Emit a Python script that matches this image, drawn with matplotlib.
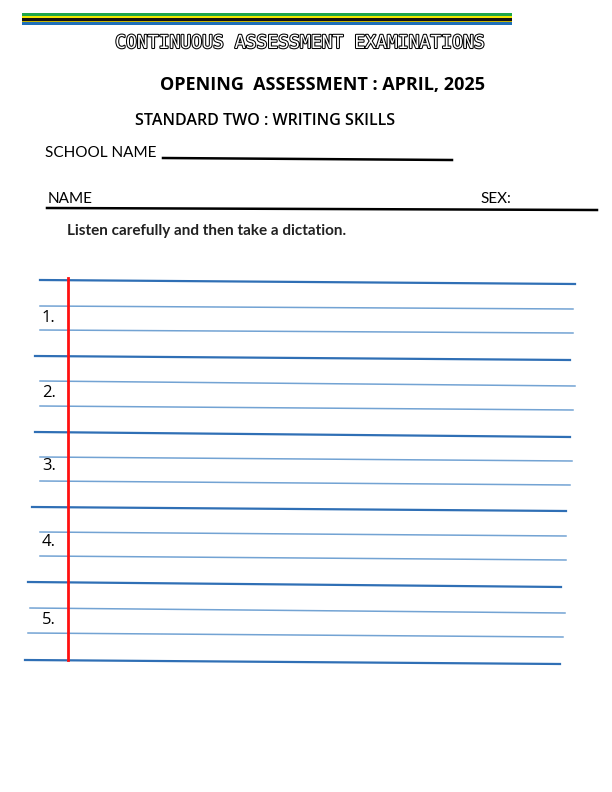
import matplotlib.pyplot as plt
import matplotlib.patheffects as pe

W, H = 612, 792

# writing lines: (y_left, y_right, x_start, x_end, is_heavy)
line_y_left = [280, 306, 330, 356, 381, 406, 432, 457, 481, 507, 532, 556, 582, 608, 633, 660]
line_y_right = [284, 309, 333, 360, 386, 410, 437, 461, 485, 511, 536, 560, 587, 613, 637, 664]
line_x_start = [40, 40, 40, 35, 40, 40, 35, 40, 40, 32, 40, 40, 28, 30, 28, 25]
line_x_end = [575, 573, 573, 570, 575, 573, 570, 572, 570, 566, 566, 566, 561, 565, 563, 560]
heavy = [1, 0, 0, 1, 0, 0, 1, 0, 0, 1, 0, 0, 1, 0, 0, 1]

numbers = ["1.", "2.", "3.", "4.", "5."]
number_y = [318, 393, 466, 542, 620]

stripe_colors = ["#1fa64a", "#f2e600", "#111111", "#c8b400", "#1f6fb8"]
stripe_top = [13, 16, 18, 21, 22]
stripe_h = [3, 2, 3, 1, 3]

fig = plt.figure(figsize=(W / 100, H / 100), dpi=100)
ax = fig.add_axes([0, 0, 1, 1])
ax.set_xlim(0, W)
ax.set_ylim(H, 0)
ax.axis("off")

for c, t, h in zip(stripe_colors, stripe_top, stripe_h):
    ax.add_patch(plt.Rectangle((22, t), 490, h, color=c, lw=0))

ax.text(300, 43, "CONTINUOUS ASSESSMENT EXAMINATIONS", ha="center", va="center",
        family="DejaVu Sans Mono", fontsize=13, color="white",
        path_effects=[pe.withStroke(linewidth=1.5, foreground="black")])
ax.text(322, 85, "OPENING  ASSESSMENT : APRIL, 2025", ha="center", va="center",
        fontsize=13, weight="bold", family="Open Sans")
ax.text(265, 121, "STANDARD TWO : WRITING SKILLS", ha="center", va="center",
        fontsize=11.5, family="Open Sans", weight="semibold")
ax.text(45, 153, "SCHOOL NAME", ha="left", va="center", fontsize=11,
        family="Lato", stretch="condensed")
ax.plot([163, 452], [158, 160], color="black", lw=1.8)
ax.text(48, 199, "NAME", ha="left", va="center", fontsize=11, family="Lato")
ax.text(480, 199, "SEX:", ha="left", va="center", fontsize=11, family="Lato")
ax.plot([47, 597], [208, 210], color="black", lw=1.8)
ax.text(67, 231, "Listen carefully and then take a dictation.", ha="left", va="center",
        fontsize=11, family="Lato", weight="bold", color="#222222")

for yl, yr, x0, x1, hv in zip(line_y_left, line_y_right, line_x_start, line_x_end, heavy):
    ax.plot([x0, x1], [yl, yr], color="#2f6fb5" if hv else "#5a93cc",
            lw=1.6 if hv else 1.1, alpha=1 if hv else 0.85)

ax.plot([68, 68], [278, 660], color="#ff1010", lw=2)

for n, y in zip(numbers, number_y):
    ax.text(42, y, n, ha="left", va="center", fontsize=12, family="Open Sans")

fig.savefig("out.png", dpi=100)
